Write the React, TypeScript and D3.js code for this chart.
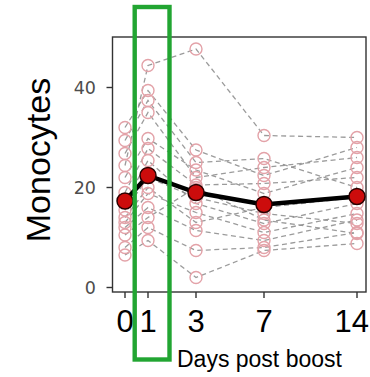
import { useEffect, useRef } from 'react'
import * as d3 from 'd3'

// days on the x axis
const days = [0, 1, 3, 7, 14]
const dayTickLabels = ['0', '1', '3', '7', '14']
const yTicks = [0, 20, 40]

// one value per subject (same index = same subject)
const day0Values = [24.4, 32, 29.4, 26.8, 22, 19, 17, 15.5, 14, 13, 12, 10.5, 8, 6.5]
const day1Values = [44.4, 39.4, 37.4, 35, 29.8, 27.8, 25.4, 22, 20, 18.8, 16, 14, 12, 9.4]
const day3Values = [47.7, 27.5, 25, 22, 23.5, 20.5, 16.8, 18, 13, 15, 11.4, 20, 7.4, 2]
const day7Values = [30.4, 22.4, 25.8, 24, 18.8, 20.8, 12.8, 14.8, 16, 11, 9.4, 13.5, 8, 7.4]
const day14Values = [30, 28, 20, 26, 24, 22, 16.8, 12.8, 18, 14.8, 13.5, 10.8, 11, 8.8]

// group mean per day
const meanValues = [17.3, 22.4, 19.0, 16.6, 18.2]

export default function App() {
  const svgRef = useRef<SVGSVGElement>(null)

  useEffect(() => {
    if (!svgRef.current) return
    const svg = d3.select(svgRef.current)
    svg.selectAll('*').remove()

    const width = 370
    const panel = { left: 112.5, right: 366, top: 37, bottom: 292 }

    // x is spaced unevenly in the figure, so use a piecewise linear scale
    const x = d3.scaleLinear()
      .domain(days)
      .range([125, 148, 196, 264, 357])

    const y = d3.scaleLinear()
      .domain([0, 40])
      .range([287.5, 87.5])

    const columns = [day0Values, day1Values, day3Values, day7Values, day14Values]
    const subjects = day0Values.map((_, i) => columns.map((col, j) => ({ day: days[j], value: col[i] })))

    svg.append('rect')
      .attr('x', panel.left)
      .attr('y', panel.top)
      .attr('width', panel.right - panel.left)
      .attr('height', panel.bottom - panel.top)
      .attr('fill', '#fff')
      .attr('stroke', '#333')
      .attr('stroke-width', 1.4)

    const line = d3.line<{ day: number; value: number }>()
      .x(d => x(d.day))
      .y(d => y(d.value))

    const g = svg.append('g')

    // individual subject trajectories
    g.selectAll('.subject')
      .data(subjects)
      .enter()
      .append('path')
      .attr('class', 'subject')
      .attr('d', d => line(d))
      .attr('fill', 'none')
      .attr('stroke', '#8a8a8a')
      .attr('stroke-width', 1.3)
      .attr('stroke-dasharray', '5,3.5')
      .attr('opacity', 0.85)

    g.selectAll('.pt')
      .data(subjects.flat())
      .enter()
      .append('circle')
      .attr('class', 'pt')
      .attr('cx', d => x(d.day))
      .attr('cy', d => y(d.value))
      .attr('r', 6)
      .attr('fill', 'none')
      .attr('stroke', '#e3a2a8')
      .attr('stroke-width', 1.4)

    // mean trajectory
    const means = days.map((d, i) => ({ day: d, value: meanValues[i] }))
    g.append('path')
      .attr('d', line(means))
      .attr('fill', 'none')
      .attr('stroke', '#000')
      .attr('stroke-width', 4.5)

    g.selectAll('.mean')
      .data(means)
      .enter()
      .append('circle')
      .attr('class', 'mean')
      .attr('cx', d => x(d.day))
      .attr('cy', d => y(d.value))
      .attr('r', 8)
      .attr('fill', '#cc0c0c')
      .attr('stroke', '#2a0000')
      .attr('stroke-width', 1.5)

    // y axis
    const yAxis = svg.append('g')
    yTicks.forEach(t => {
      yAxis.append('line')
        .attr('x1', panel.left - 6)
        .attr('x2', panel.left)
        .attr('y1', y(t))
        .attr('y2', y(t))
        .attr('stroke', '#333')
        .attr('stroke-width', 1.4)
      yAxis.append('text')
        .attr('x', 96)
        .attr('y', y(t))
        .attr('dy', '0.36em')
        .attr('text-anchor', 'end')
        .attr('font-family', 'DejaVu Sans, sans-serif')
        .attr('font-size', 17.5)
        .attr('fill', '#4d4d4d')
        .text(String(t))
    })

    svg.append('text')
      .attr('transform', `translate(50,160) rotate(-90)`)
      .attr('text-anchor', 'middle')
      .attr('font-family', 'Liberation Sans, Arial, sans-serif')
      .attr('font-size', 34)
      .attr('fill', '#000')
      .text('Monocytes')

    // x axis
    const xAxis = svg.append('g')
    days.forEach((d, i) => {
      xAxis.append('line')
        .attr('x1', x(d))
        .attr('x2', x(d))
        .attr('y1', panel.bottom)
        .attr('y2', panel.bottom + 6)
        .attr('stroke', '#333')
        .attr('stroke-width', 1.4)
      const label = xAxis.append('text')
        .attr('x', x(d))
        .attr('y', 332)
        .attr('text-anchor', 'middle')
        .attr('font-family', 'Liberation Sans, Arial, sans-serif')
        .attr('font-size', 31)
        .attr('fill', '#000')
        .text(dayTickLabels[i])
      // keep the last label inside the picture
      const w = (label.node() as SVGTextElement).getComputedTextLength()
      if (x(d) + w / 2 > width - 1) label.attr('x', width - 1 - w / 2)
    })

    svg.append('text')
      .attr('x', 177)
      .attr('y', 367)
      .attr('font-family', 'Liberation Sans, Arial, sans-serif')
      .attr('font-size', 23)
      .attr('fill', '#000')
      .text('Days post boost')

    // green highlight box around day 1
    svg.append('rect')
      .attr('x', 134.7)
      .attr('y', 7)
      .attr('width', 34.8)
      .attr('height', 352.5)
      .attr('fill', 'none')
      .attr('stroke', '#22a532')
      .attr('stroke-width', 4.4)
  }, [])

  return (
    <svg
      ref={svgRef}
      width={370}
      height={377}
      style={{ position: 'absolute', left: 0, top: 0, background: '#fff' }}
    />
  )
}
